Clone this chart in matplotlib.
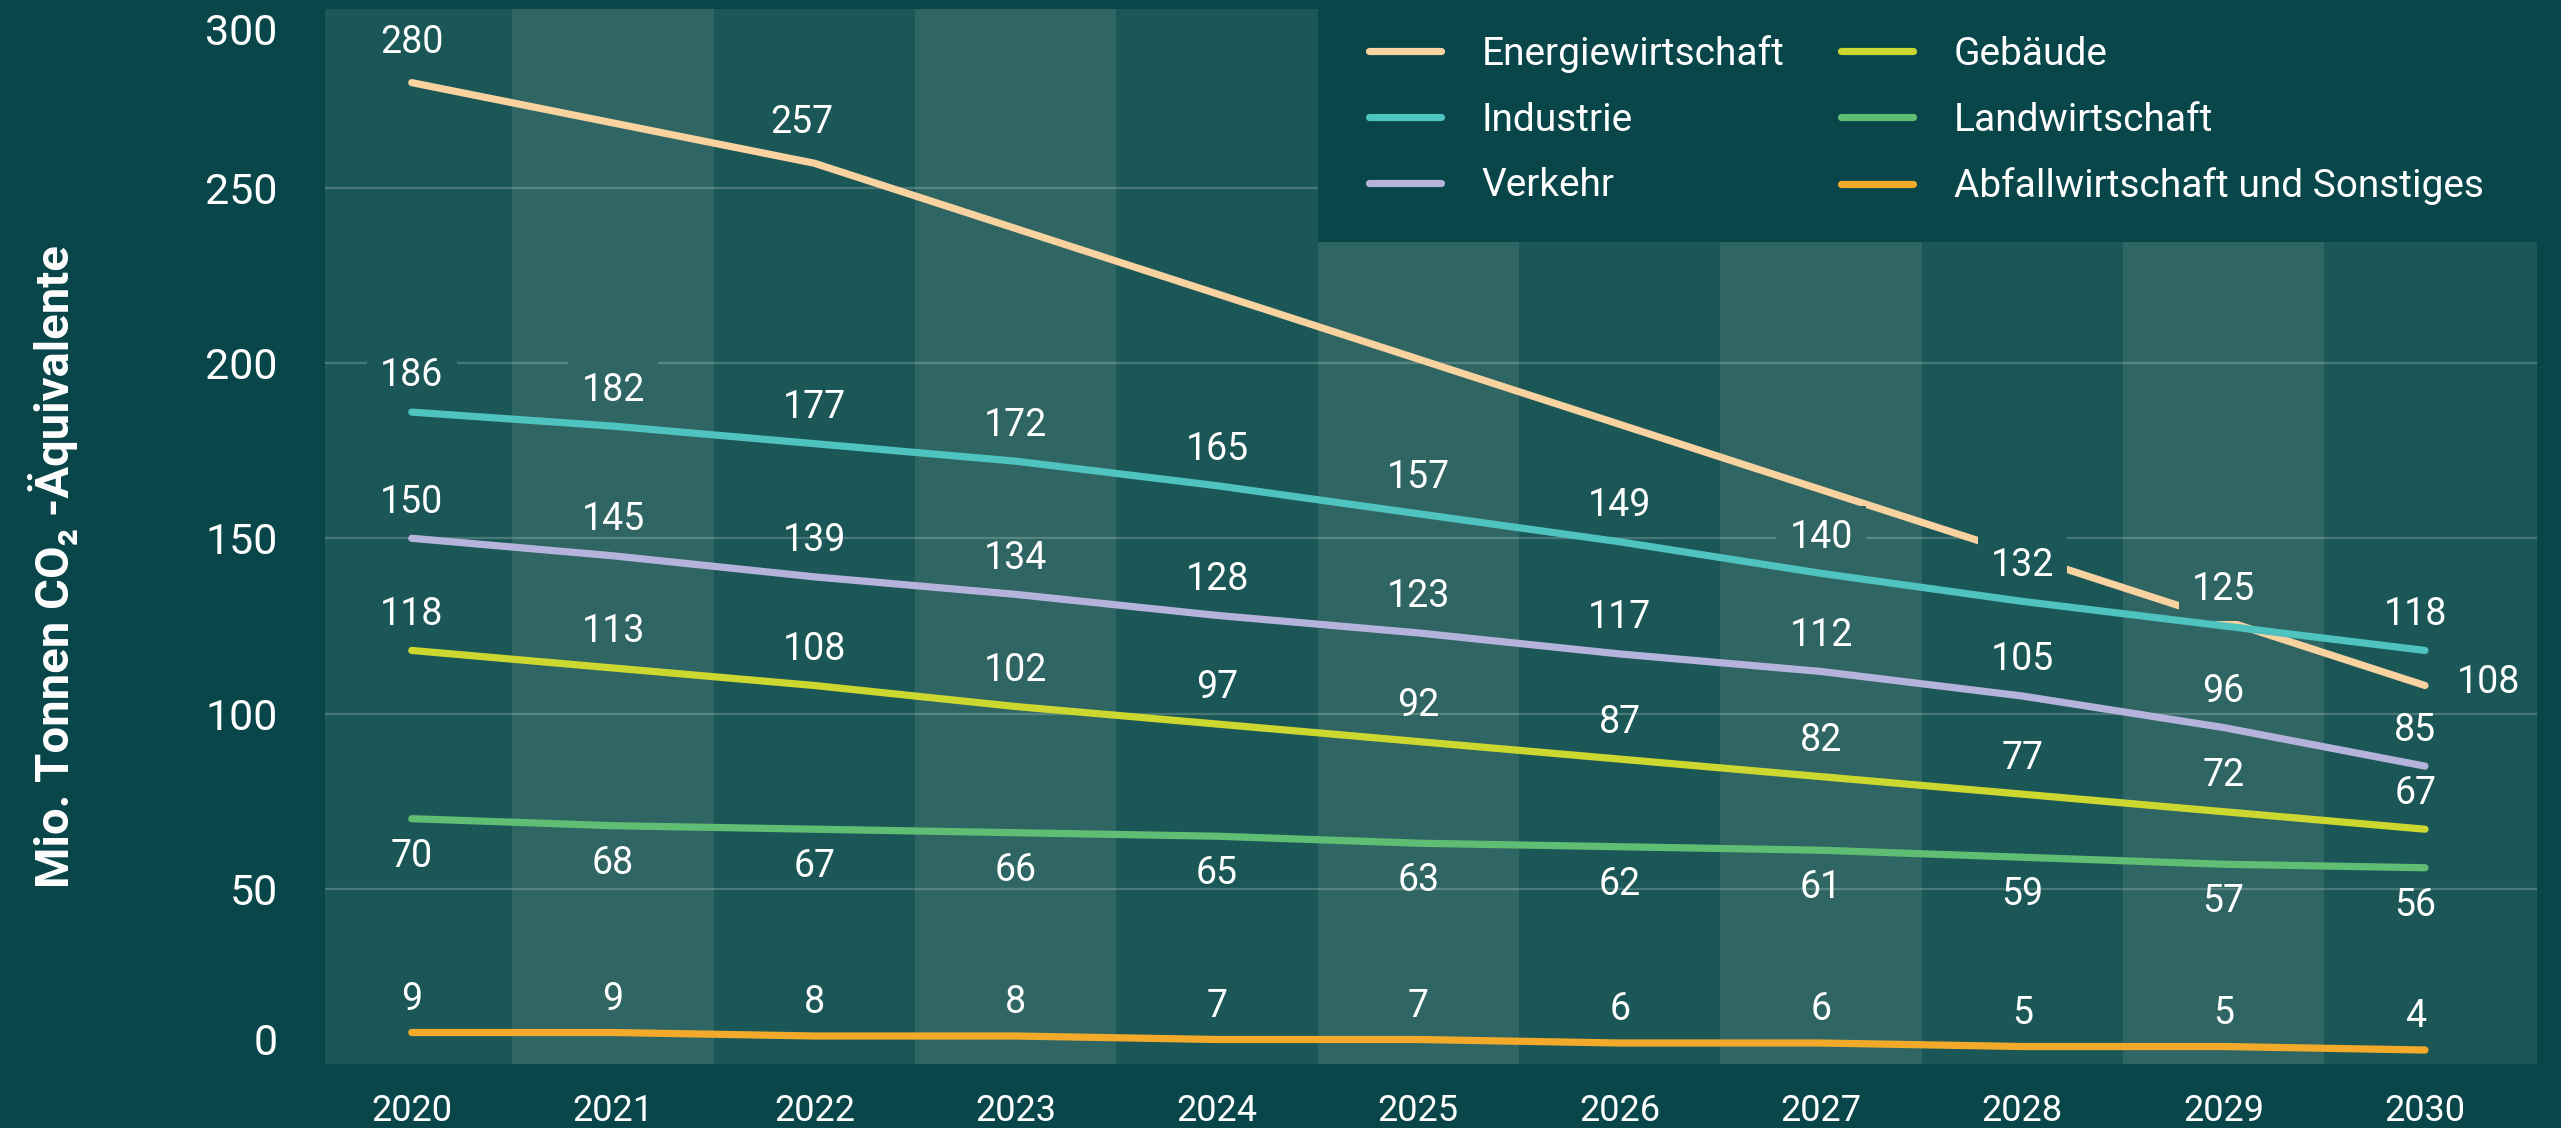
import matplotlib
matplotlib.use("Agg")
import matplotlib.pyplot as plt
from matplotlib.patches import Rectangle

plt.rcParams['font.family'] = ['Roboto', 'DejaVu Sans']

# Emissions targets (Mio. t CO2-eq)
years = [2020, 2021, 2022, 2023, 2024, 2025, 2026, 2027, 2028, 2029, 2030]
energie_years = [2020, 2022, 2030]
energie = [280, 257, 108]
industrie = [186, 182, 177, 172, 165, 157, 149, 140, 132, 125, 118]
verkehr = [150, 145, 139, 134, 128, 123, 117, 112, 105, 96, 85]
gebaeude = [118, 113, 108, 102, 97, 92, 87, 82, 77, 72, 67]
landwirtschaft = [70, 68, 67, 66, 65, 63, 62, 61, 59, 57, 56]
abfall = [9, 9, 8, 8, 7, 7, 6, 6, 5, 5, 4]
yticks = [0, 50, 100, 150, 200, 250, 300]

BG = '#08464a'
BAND_DARK = '#1b5757'
BAND_LIGHT = '#2f6663'
WHITE = '#ffffff'

fig = plt.figure(figsize=(25.61, 11.28), dpi=100)
fig.patch.set_facecolor(BG)
ax = fig.add_axes([0.1269, 0.0567, 0.8637, 0.9353])
ax.set_facecolor(BAND_DARK)

# alternating column bands
for i, yr in enumerate(years):
    ax.axvspan(yr - 0.5, yr + 0.5, color=BAND_LIGHT if i % 2 else BAND_DARK,
               lw=0, zorder=0)

for v in yticks[1:-1]:
    ax.axhline(v, color=WHITE, alpha=0.2, lw=1.6, zorder=1)

series = [
    ("Energiewirtschaft", energie_years, energie, '#f8d3a0'),
    ("Industrie", years, industrie, '#4fc3bf'),
    ("Verkehr", years, verkehr, '#b5b3dc'),
    ("Gebäude", years, gebaeude, '#ccd82f'),
    ("Landwirtschaft", years, landwirtschaft, '#5fbd74'),
    ("Abfallwirtschaft und Sonstiges", years, abfall, '#f3aa2b'),
]

handles = []
for name, xs, ys, col in series:
    # energy line runs under the (boxed) industry labels, the rest on top
    z = 3 if name == "Energiewirtschaft" else 5
    ln, = ax.plot(xs, ys, color=col, lw=5.2, solid_capstyle='round',
                  solid_joinstyle='round', zorder=z, label=name)
    handles.append(ln)


def label(x, y, dx=0, dy=26, box=False):
    dx = dx - 7 if x == years[-1] and dx == 0 else dx
    band = BAND_LIGHT if years.index(x) % 2 else BAND_DARK
    bb = dict(boxstyle='square,pad=0.35', fc=band, ec='none') if box else None
    ax.annotate(str(y), (x, y), xytext=(dx, dy), textcoords='offset points',
                ha='center', va='center', color=WHITE, fontsize=27,
                bbox=bb, zorder=4)


label(energie_years[0], energie[0], dy=29)
label(energie_years[1], energie[1], dx=-9, dy=29)
label(energie_years[-1], energie[-1], dx=46, dy=2)
for x, y in zip(years, industrie):
    label(x, y, box=True)
for x, y in zip(years, verkehr):
    label(x, y)
for x, y in zip(years, gebaeude):
    label(x, y)
for x, y in zip(years, landwirtschaft):
    label(x, y, dy=-27)
for x, y in zip(years, abfall):
    label(x, y, dy=24)

ax.set_xlim(2019.569, 2030.556)
ax.set_ylim(0, 301)
ax.set_xticks(years)
ax.set_xticklabels([str(y) for y in years])
ax.set_yticks(yticks)
ax.set_yticklabels([str(v) for v in yticks])
ax.tick_params(axis='x', length=0, pad=21, labelsize=26, labelcolor=WHITE)
ax.tick_params(axis='y', length=0, pad=34, labelsize=31, labelcolor=WHITE)
ylabels = ax.get_yticklabels()
ylabels[-1].set_va('top')
ylabels[0].set_va('bottom')
for s in ax.spines.values():
    s.set_visible(False)

fig.text(0.0205, 1 - 567 / 1128, "Mio. Tonnen CO\u2082 -Äquivalente",
         rotation=90, ha='center', va='center', color=WHITE,
         fontsize=34, fontweight='bold')

# legend panel sits over the top right of the plot
fig.add_artist(Rectangle((1318 / 2561, 1 - 242 / 1128), 1, 1,
                         transform=fig.transFigure, color=BG, lw=0, zorder=2))
fig.legend(handles=handles, ncol=2, loc='upper left',
           bbox_to_anchor=(1369 / 2561, 0.969), frameon=False,
           fontsize=28, labelcolor=WHITE, handlelength=1.85,
           handletextpad=1.05, columnspacing=1.45, labelspacing=0.74,
           borderpad=0, borderaxespad=0).set_zorder(6)

fig.savefig("out.png", dpi=100, facecolor=BG)
